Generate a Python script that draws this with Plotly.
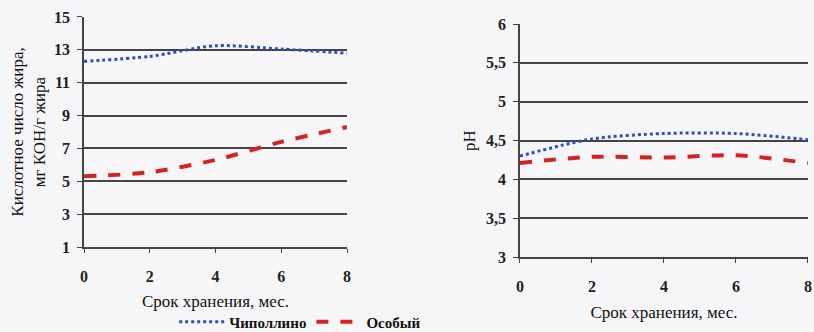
import plotly.graph_objects as go

# Storage time, months
months = [0, 2, 4, 6, 8]

# Acid number of fat, mg KOH/g
acid_chipollino = [12.3, 12.6, 13.25, 13.05, 12.8]
acid_osobyi = [5.3, 5.55, 6.3, 7.4, 8.3]

# pH
ph_chipollino = [4.3, 4.52, 4.59, 4.59, 4.51]
ph_osobyi = [4.21, 4.29, 4.28, 4.31, 4.21]

series_names = ["Чиполлино", "Особый"]
acid_ticks = [1, 3, 5, 7, 9, 11, 13, 15]
ph_ticks = [3, 3.5, 4, 4.5, 5, 5.5, 6]
ph_ticktext = ["3", "3,5", "4", "4,5", "5", "5,5", "6"]

blue = "#2f4fbf"
red = "#d62222"
grid = "#444444"
serif = "Liberation Serif, DejaVu Serif, serif"

fig = go.Figure()

styles = [dict(color=blue, width=3, dash="dot"), dict(color=red, width=4, dash="dash")]

for name, vals, st in zip(series_names, [acid_chipollino, acid_osobyi], styles):
    fig.add_trace(go.Scatter(x=months, y=vals, mode="lines", name=name,
                             line=dict(shape="spline", smoothing=0.8, **st),
                             xaxis="x", yaxis="y"))
for name, vals, st in zip(series_names, [ph_chipollino, ph_osobyi], styles):
    fig.add_trace(go.Scatter(x=months, y=vals, mode="lines", name=name,
                             line=dict(shape="spline", smoothing=0.8, **st),
                             showlegend=False, xaxis="x2", yaxis="y2"))

tickfont = dict(family=serif, size=16, color="#222", weight=700)
titlefont = dict(family=serif, size=17, color="#111")

xcommon = dict(range=[0, 8], tickvals=months, showgrid=False, zeroline=False,
               showline=True, linecolor=grid, linewidth=1.5,
               ticks="outside", ticklen=4, tickcolor=grid, tickfont=tickfont,
               ticklabelstandoff=10)
ycommon = dict(showgrid=True, gridcolor=grid, gridwidth=1.6, zeroline=False,
               showline=True, linecolor=grid, linewidth=1.6,
               ticks="outside", ticklen=5, tickcolor=grid, tickfont=tickfont,
               ticklabelstandoff=4)

fig.update_layout(
    width=814, height=332,
    margin=dict(l=0, r=0, t=0, b=0, autoexpand=False),
    paper_bgcolor="#f6f6f8", plot_bgcolor="rgba(0,0,0,0)",
    xaxis=dict(domain=[0.1032, 0.4263], anchor="y",
               title=dict(text="Срок хранения, мес.", font=titlefont, standoff=11),
               **xcommon),
    yaxis=dict(domain=[0.256, 0.9488], anchor="x", range=[1, 15], tickvals=acid_ticks,
               title=dict(text="Кислотное число жира,<br>мг КОН/г жира", font=titlefont,
                          standoff=4),
               **ycommon),
    xaxis2=dict(domain=[0.6388, 0.9926], anchor="y2",
                title=dict(text="Срок хранения, мес.", font=titlefont, standoff=12),
                **xcommon),
    yaxis2=dict(domain=[0.2259, 0.9277], anchor="x2", range=[3, 6], tickvals=ph_ticks,
                ticktext=ph_ticktext,
                title=dict(text="pH", font=titlefont, standoff=6),
                **ycommon),
    legend=dict(orientation="h", x=0.214, xanchor="left", y=0.03, yanchor="middle",
                font=dict(family=serif, size=15, color="#111", weight=700),
                bgcolor="rgba(0,0,0,0)", itemwidth=45, tracegroupgap=0),
    showlegend=True,
)

fig.write_html("out.html")
